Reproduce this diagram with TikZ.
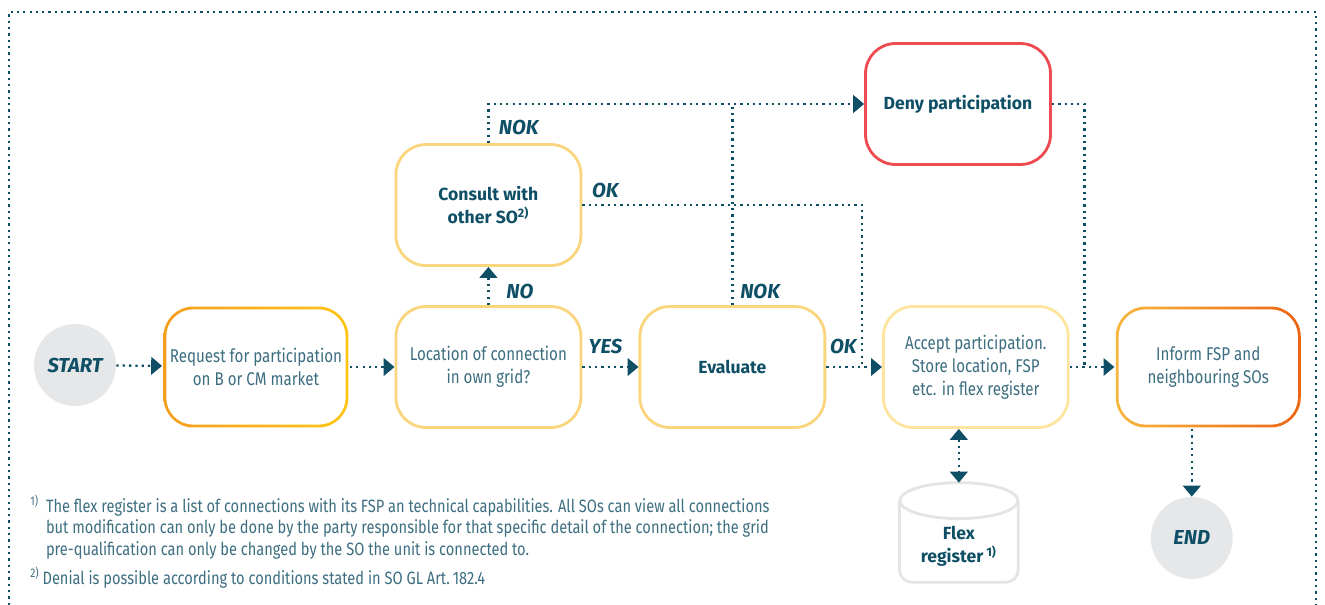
\documentclass[tikz,border=0pt]{standalone}
\usepackage{fontspec}
\setmainfont{Fira Sans}
\newfontfamily\condfont[FakeStretch=0.82]{Fira Sans}
\usetikzlibrary{arrows.meta,positioning}

\definecolor{flowdark}{HTML}{0E4F66}
\definecolor{flowtext}{HTML}{3C6E80}
\definecolor{termgray}{HTML}{E6E7E9}
\definecolor{dbgray}{HTML}{E4E4E4}
\definecolor{yellowbox}{HTML}{F9D57E}
\definecolor{paleyellow}{HTML}{FDE49F}
\definecolor{denyred}{HTML}{EE4A52}
\definecolor{orangeA}{HTML}{F39E1E}
\definecolor{orangeB}{HTML}{FFC414}
\definecolor{orangeC}{HTML}{F8B53D}
\definecolor{orangeD}{HTML}{EC6512}

\begin{document}
\begin{tikzpicture}[x=0.02cm,y=-0.02cm,node distance=1cm,
    box/.style={rectangle,rounded corners=0.6cm,minimum width=3.7cm,minimum height=2.42cm,inner xsep=2pt,
      line width=1.6pt,align=center,text=flowtext,font=\condfont\fontsize{10.5}{13}\selectfont},
    boldbox/.style={box,text=flowdark,font=\bfseries\fontsize{10}{13}\selectfont},
    gradbox/.style 2 args={box,draw=none,left color=#1,right color=#2,
      path picture={\fill[white,rounded corners=0.545cm]
        ([shift={(1.6pt,-1.6pt)}]path picture bounding box.north west) rectangle
        ([shift={(-1.6pt,1.6pt)}]path picture bounding box.south east);}},
    terminal/.style={circle,fill=termgray,minimum size=1.64cm,text=flowdark,
      font=\bfseries\itshape\fontsize{11.5}{13}\selectfont},
    dbbox/.style={rectangle,minimum width=2.36cm,minimum height=1.98cm,inner sep=0pt},
    dbtext/.style={align=center,text=flowdark,font=\bfseries\fontsize{10}{13}\selectfont},
    dbline/.style={draw=dbgray,line width=1.6pt},
    lbl/.style={inner sep=1pt,text=flowdark,font=\bfseries\itshape\fontsize{11.5}{13}\selectfont},
    note/.style={inner sep=0pt,text=flowtext,font=\condfont\fontsize{10.15}{12.5}\selectfont},
    flowline/.style={flowdark,line width=1.3pt,dash pattern=on 1.3pt off 2.3pt},
    flow/.style={flowline,-{Triangle[length=6.2pt,width=10pt]}},
    flowboth/.style={flowline,{Triangle[length=6.2pt,width=10pt]}-{Triangle[length=6.2pt,width=10pt]}},
    framedots/.style={flowline}]
  \useasboundingbox (0,0) rectangle (1325,605);
  \draw[framedots] (9,605) -- (9,12) -- (1316,12) -- (1316,605);

  \node[terminal] (start) at (75,365) {START};
  \node[gradbox={orangeA}{orangeB}] (req) [on grid,right=3.62cm of start,yshift=-0.04cm] {Request for participation\\on B or CM market};
  \node[box,draw=yellowbox] (loc) [on grid,right=4.65cm of req] {Location of connection\\in own grid?};
  \node[boldbox,draw=yellowbox] (cons) [on grid,above=3.24cm of loc] {Consult with\\other SO\textsuperscript{2)}};
  \node[boldbox,draw=yellowbox] (eval) [on grid,right=4.88cm of loc] {Evaluate};
  \node[box,draw=paleyellow] (acc) [on grid,right=4.87cm of eval] {Accept participation.\\Store location, FSP\\etc. in flex register};
  \node[gradbox={orangeC}{orangeD}] (inform) [on grid,right=4.65cm of acc] {Inform FSP and\\neighbouring SOs};
  \node[boldbox,draw=denyred] (deny) at (958,104) {Deny participation};
  \node[dbbox] (flex) [on grid,below=3.31cm of acc,xshift=-0.34cm] {};
  \node[dbtext] (flextxt) at ([yshift=-0.28cm]flex.center) {Flex\\register\,\textsuperscript{1)}};
  \node[terminal] (end) [on grid,below=3.42cm of inform,xshift=-0.33cm] {END};

  % flex register drum
  \draw[dbline,rounded corners=0.25cm] ([yshift=-0.36cm]flex.north west) -- (flex.south west)
    -- (flex.south east) -- ([yshift=-0.36cm]flex.north east);
  \draw[dbline] ([yshift=-0.36cm]flex.north) ellipse [x radius=1.18cm,y radius=0.36cm];

  \path[flow]
    (start) edge (req)
    (req) edge (loc)
    (loc) edge node[lbl,above=0.2cm,xshift=-0.1cm] {YES} (eval)
    (loc) edge node[lbl,right=0.3cm,pos=0.35] {NO} (cons)
    (eval) edge node[lbl,above right=0.2cm and 0.02cm,pos=0] {OK} (acc)
    (acc) edge (inform);

  \draw[flow] (cons.north) |- node[lbl,right=0.15cm,pos=0.2] {NOK} (deny.west);
  \draw[flowline] (eval.north) -- node[lbl,right=0.1cm,pos=0.07] {NOK} (eval.north |- deny.west);
  \draw[flowline] (cons.east) -| node[lbl,above right=0.08cm and 0.14cm,pos=0] {OK} ([xshift=-0.4cm]acc.west);
  \draw[flowline] (deny.east) -| ([xshift=-0.6cm]inform.west);
  \draw[flowboth] (flex.north |- acc.south) -- (flex.north);
  \draw[flow] (end.north |- inform.south) -- (end.north);

  % footnotes
  \node[note,anchor=base west] (note1) at (30,512) {\begin{tabular}[t]{@{}l@{\hspace{4pt}}l@{}}
    \textsuperscript{1)} & The flex register is a list of connections with its FSP an technical capabilities. All SOs can view all connections\\
    & but modification can only be done by the party responsible for that specific detail of the connection; the grid\\
    & pre-qualification can only be changed by the SO the unit is connected to.
  \end{tabular}};
  \node[note,anchor=base west] (note2) at (30,584) {\textsuperscript{2)}\,Denial is possible according to conditions stated in SO GL Art.\,182.4};
\end{tikzpicture}
\end{document}
